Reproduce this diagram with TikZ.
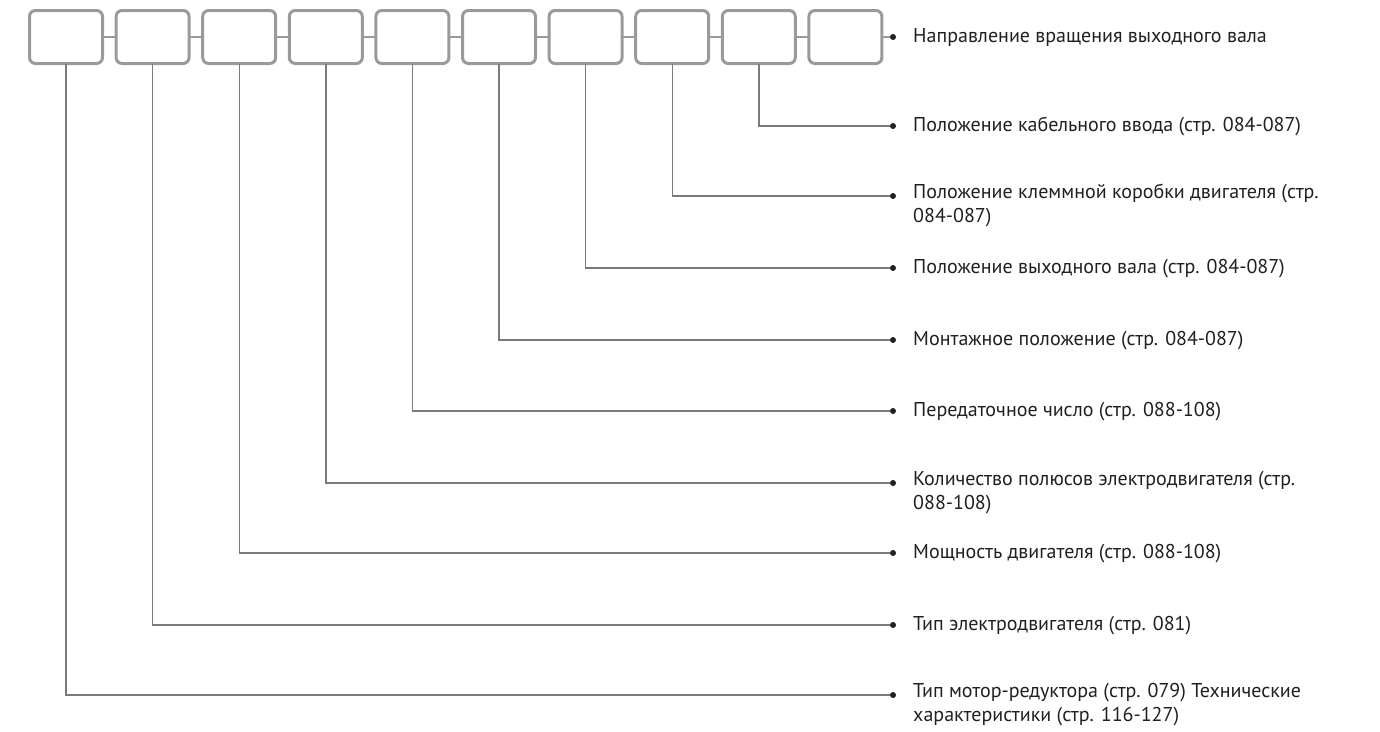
\documentclass[tikz,border=0pt]{standalone}
\usepackage{fontspec}
\setmainfont{PT Sans}
\usepackage{tikz}
\usetikzlibrary{positioning}
\definecolor{boxgray}{HTML}{9A9A9B}
\definecolor{wiregray}{HTML}{7A7A7A}
\definecolor{inkdark}{HTML}{231F20}
\tikzset{
  cell/.style = {draw=boxgray, line width=3pt, rounded corners=6pt, minimum width=73pt, minimum height=53pt, outer sep=0pt, inner sep=0pt},
  chain/.style = {draw=boxgray, line width=2pt},
  wire/.style = {draw=wiregray, line width=1.4pt},
  pin/.style = {circle, fill=inkdark, inner sep=0pt, minimum size=6pt},
  lbl/.style = {anchor=north west, yshift=11.8pt, align=left, inner sep=0pt, text=inkdark,
                font=\fontsize{20}{24}\selectfont, execute at begin node=\strut},
}

\begin{document}
\begin{tikzpicture}[x=1pt, y=-1pt, node distance=13.6pt]
    \useasboundingbox (0,0) rectangle (1380,731);

    % Code boxes
    \node[cell] (b1) at (66,37) {};
    \node[cell, right=of b1] (b2) {};
    \node[cell, right=of b2] (b3) {};
    \node[cell, right=of b3] (b4) {};
    \node[cell, right=of b4] (b5) {};
    \node[cell, right=of b5] (b6) {};
    \node[cell, right=of b6] (b7) {};
    \node[cell, right=of b7] (b8) {};
    \node[cell, right=of b8] (b9) {};
    \node[cell, right=of b9] (b10) {};

    \draw[chain] (b1) -- (b2);
    \draw[chain] (b2) -- (b3);
    \draw[chain] (b3) -- (b4);
    \draw[chain] (b4) -- (b5);
    \draw[chain] (b5) -- (b6);
    \draw[chain] (b6) -- (b7);
    \draw[chain] (b7) -- (b8);
    \draw[chain] (b8) -- (b9);
    \draw[chain] (b9) -- (b10);

    % Pins
    \node[pin] (d10) at (893,37) {};
    \node[pin] (d9) at (893,126) {};
    \node[pin] (d8) at (893,196) {};
    \node[pin] (d7) at (893,268) {};
    \node[pin] (d6) at (893,340) {};
    \node[pin] (d5) at (893,411) {};
    \node[pin] (d4) at (893,483) {};
    \node[pin] (d3) at (893,553) {};
    \node[pin] (d2) at (893,625) {};
    \node[pin] (d1) at (893,695) {};

    % Labels
    \node[lbl] (t10) at (913,37) {Направление вращения выходного вала};
    \node[lbl] (t9) at (913,126) {Положение кабельного ввода (стр. 084-087)};
    \node[lbl] (t8) at (913,196) {Положение клеммной коробки двигателя (стр.\\084-087)};
    \node[lbl] (t7) at (913,268) {Положение выходного вала (стр. 084-087)};
    \node[lbl] (t6) at (913,340) {Монтажное положение (стр. 084-087)};
    \node[lbl] (t5) at (913,411) {Передаточное число (стр. 088-108)};
    \node[lbl] (t4) at (913,483) {Количество полюсов электродвигателя (стр.\\088-108)};
    \node[lbl] (t3) at (913,553) {Мощность двигателя (стр. 088-108)};
    \node[lbl] (t2) at (913,625) {Тип электродвигателя (стр. 081)};
    \node[lbl] (t1) at (913,695) {Тип мотор-редуктора (стр. 079) Технические\\характеристики (стр. 116-127)};

    % Leaders
    \draw[chain] (b10) -- (d10);
    \draw[wire] (b9) |- (d9);
    \draw[wire] (b8) |- (d8);
    \draw[wire] (b7) |- (d7);
    \draw[wire] (b6) |- (d6);
    \draw[wire] (b5) |- (d5);
    \draw[wire] (b4) |- (d4);
    \draw[wire] (b3) |- (d3);
    \draw[wire] (b2) |- (d2);
    \draw[wire] (b1) |- (d1);
  \end{tikzpicture}
\end{document}
